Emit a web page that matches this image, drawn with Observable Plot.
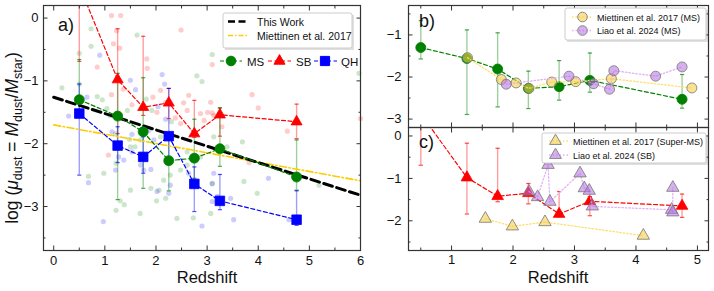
<!DOCTYPE html>
<html><head><meta charset="utf-8">
<script src="https://cdn.jsdelivr.net/npm/d3@7"></script>
<script src="https://cdn.jsdelivr.net/npm/@observablehq/plot@0.6"></script>
<style>
body{margin:0;background:#fff;}
#wrap{position:relative;width:714px;height:291px;overflow:hidden;font-family:"Liberation Sans",Arial,Helvetica,sans-serif;}
#wrap svg{position:absolute;overflow:visible;}
</style></head><body><div id="wrap"></div>
<script>
// ---------- data ----------
const binZ = [0.5, 1.25, 1.75, 2.25, 2.75, 3.25, 4.75];
const msY  = [-1.30, -1.56, -1.81, -2.27, -2.23, -2.08, -2.53];
const msHi = [-0.66, -0.88, -0.95, -1.86, -1.61, -1.43, -1.94];
const msLo = [-1.57, -2.89, -2.71, -2.75, -2.55, -2.36, -2.74];
const sbY  = [0.52, -0.98, -1.42, -1.35, -1.84, -1.54, -1.65];
const sbHi = [1.20, -0.17, -0.29, -1.12, -1.31, -1.43, -1.37];
const sbLo = [-0.69, -1.84, -1.55, -1.60, -1.90, -1.88, -1.92];
const qhY  = [-1.52, -2.03, -2.21, -1.88, -2.64, -2.91, -3.21];
const qhHi = [-1.05, -1.73, -1.89, -1.12, -2.37, -2.49, -2.75];
const qhLo = [-2.50, -2.30, -2.47, -2.30, -3.08, -3.05, -3.30];

const fitZ = [0, 6];
const thisWorkFit = [-1.26, -2.82];
const miettinenFit = [-1.70, -2.59];

const msDots = [[0.16,-1.11],[0.50,-0.56],[0.50,-1.05],[0.73,-0.17],[0.73,-0.45],[0.68,-2.52],[0.95,-1.30],[1.04,-1.44],[1.22,-3.06],[1.30,-2.91],[1.38,-2.97],[1.44,-1.47],[1.63,-0.27],[1.69,-3.11],[1.81,-1.29],[1.92,-1.47],[1.50,-2.74],[1.90,-2.71],[2.06,-2.74],[2.19,-2.87],[2.01,-2.91],[2.15,-2.58],[2.28,-2.50],[2.41,-3.19],[2.48,-2.42],[2.61,-2.13],[2.73,-3.18],[2.80,-0.92],[2.90,-1.01],[3.10,-0.58],[3.07,-3.11],[3.13,-1.89],[3.39,-2.05],[3.10,-2.64],[3.69,-1.97],[3.72,-2.60],[3.98,-2.79],[5.19,-2.66],[5.97,-0.88],[1.70,-1.94],[1.50,-2.05],[1.59,-2.05],[1.22,-2.31],[1.48,-1.93],[0.98,-2.47],[2.09,-1.89],[2.87,-2.21],[1.21,-1.84],[2.61,-2.34],[1.10,-1.55],[2.30,-1.65],[0.85,-1.25]];
const sbDots = [[1.13,0.04],[1.31,0.04],[1.23,-0.20],[1.17,-0.41],[1.29,-0.48],[1.82,-0.65],[1.83,-0.80],[2.49,-0.19],[3.10,-0.74],[2.09,-1.15],[2.19,-1.34],[2.64,-1.23],[2.54,-1.35],[3.01,-1.50],[3.10,-1.51],[3.07,-1.34],[3.88,-1.22],[2.38,-1.59],[2.02,-1.50],[4.00,-1.43],[4.57,-1.80],[6.00,-1.60],[1.07,-2.18],[1.13,-1.22],[1.53,-1.38],[2.87,-1.52],[2.94,-1.63],[3.29,-1.73],[2.48,-1.68],[3.82,-2.30],[0.85,-0.78],[1.36,-1.13],[1.94,-1.26],[2.61,-1.47],[3.13,-1.55]];
const qhDots = [[0.29,-1.56],[0.65,-1.26],[0.90,-0.59],[0.68,-2.62],[0.97,-3.24],[1.50,-0.99],[1.60,-1.14],[1.14,-1.81],[1.27,-2.21],[1.37,-2.26],[1.53,-2.13],[1.70,-2.34],[1.76,-2.42],[1.86,-1.79],[2.12,-0.90],[2.17,-1.05],[2.04,-1.41],[2.19,-1.61],[2.02,-2.76],[2.28,-2.66],[2.25,-2.79],[2.64,-2.47],[3.13,-2.47],[3.10,-2.92],[3.20,-2.84],[2.90,-3.31],[3.52,-3.21],[4.20,-2.55],[4.60,-3.21],[1.53,-1.85],[1.90,-2.41],[3.46,-2.87],[1.29,-2.06],[1.96,-1.94],[3.10,-2.63],[1.21,-2.42]];

// panel b: Miettinen 2017 (MS), Liao 2024 (MS)
const m17MsZ = [1.26, 1.81, 2.05, 2.26, 2.63, 3.02, 3.60, 4.91];
const m17MsY = [-1.54, -2.06, -2.14, -2.27, -2.12, -2.11, -2.04, -2.26];
const liaoMsZ = [1.89, 2.91, 3.31, 3.57, 3.64, 4.32, 4.75];
const liaoMsY = [-2.17, -1.98, -2.16, -2.29, -1.85, -1.98, -1.76];
// panel c: Miettinen 2017 (Super-MS), Liao 2024 (SB)
const m17SmZ = [1.55, 1.99, 2.52, 4.12];
const m17SmY = [-1.95, -2.13, -2.03, -2.35];
const liaoSbZ = [2.26, 2.40, 2.57, 2.60, 3.09, 3.16, 3.24, 3.29, 4.58, 4.60, 4.60];
const liaoSbY = [-1.31, -1.44, -0.68, -1.55, -0.88, -1.23, -1.29, -1.66, -1.74, -1.80, -1.22];

// ---------- helpers ----------
const F = '"Liberation Sans", Arial, Helvetica, sans-serif';
const wrap = document.getElementById("wrap");
const mk = (zs, ys, his, los) => zs.map((z, i) => ({z, y: ys[i], hi: his ? his[i] : null, lo: los ? los[i] : null}));
const ms = mk(binZ, msY, msHi, msLo);
const sb = mk(binZ, sbY, sbHi, sbLo);
const qh = mk(binZ, qhY, qhHi, qhLo);
const m17Ms = mk(m17MsZ, m17MsY), liaoMs = mk(liaoMsZ, liaoMsY);
const m17Sm = mk(m17SmZ, m17SmY), liaoSb = mk(liaoSbZ, liaoSbY);
const pts = arr => arr.map(d => ({z: d[0], y: d[1]}));
const none = () => "";
const intFmt = d3.format("d");

function tickAxes(o) {
  const m = [];
  const ax = (anchor, ticks, size) => (anchor === "bottom" || anchor === "top")
    ? Plot.axisX({anchor, ticks, tickSize: size, tickFormat: none, label: null, stroke: "#333"})
    : Plot.axisY({anchor, ticks, tickSize: size, tickFormat: none, label: null, stroke: "#333"});
  for (const a of o.xAnchors) { m.push(ax(a, o.xt, -4.5)); m.push(ax(a, o.xm, -2.5)); }
  for (const a of ["left", "right"]) { m.push(ax(a, o.yt, -4.5)); m.push(ax(a, o.ym, -2.5)); }
  return m;
}
function errBars(data, color, half) {
  return [
    Plot.ruleX(data, {x: "z", y1: "lo", y2: "hi", stroke: color, strokeOpacity: 0.38, strokeWidth: 1.4, clip: true}),
    Plot.link(data, {x1: d => d.z - half, x2: d => d.z + half, y1: "hi", y2: "hi", stroke: color, strokeOpacity: 0.7, strokeWidth: 1.2, clip: true}),
    Plot.link(data, {x1: d => d.z - half, x2: d => d.z + half, y1: "lo", y2: "lo", stroke: color, strokeOpacity: 0.7, strokeWidth: 1.2, clip: true})
  ];
}
function place(svg, left, top) {
  svg.style.left = left + "px"; svg.style.top = top + "px";
  wrap.appendChild(svg);
}

// ---------- panel a ----------
const A = Plot.plot({
  width: 362, height: 291, marginLeft: 43, marginRight: 2, marginTop: 5, marginBottom: 41,
  style: {fontFamily: F, fontSize: "13px", color: "#111", background: "transparent", overflow: "visible"},
  x: {domain: [-0.2, 6]}, y: {domain: [-3.7, 0.2]},
  marks: [
    Plot.dot(pts(msDots), {x: "z", y: "y", r: 2.6, fill: "green", fillOpacity: 0.2}),
    Plot.dot(pts(sbDots), {x: "z", y: "y", r: 2.6, fill: "red", fillOpacity: 0.2}),
    Plot.dot(pts(qhDots), {x: "z", y: "y", r: 2.6, fill: "blue", fillOpacity: 0.2}),
    ...errBars(sb, "red", 0.04), ...errBars(ms, "green", 0.04), ...errBars(qh, "blue", 0.04),
    Plot.line(fitZ.map((z, i) => ({z, y: miettinenFit[i]})), {x: "z", y: "y", stroke: "#ffcc00", strokeWidth: 1.6, strokeDasharray: "7,2.5,1.5,2.5"}),
    Plot.line(fitZ.map((z, i) => ({z, y: thisWorkFit[i]})), {x: "z", y: "y", stroke: "black", strokeWidth: 3, strokeDasharray: "9,4.5"}),
    Plot.line(ms, {x: "z", y: "y", stroke: "green", strokeWidth: 1.2, strokeDasharray: "4,2.5", clip: true}),
    Plot.line(sb, {x: "z", y: "y", stroke: "red", strokeWidth: 1.2, strokeDasharray: "4,2.5", clip: true}),
    Plot.line(qh, {x: "z", y: "y", stroke: "blue", strokeWidth: 1.2, strokeDasharray: "4,2.5", clip: true}),
    Plot.dot(ms, {x: "z", y: "y", r: 5, fill: "green", stroke: "green", strokeWidth: 0.8}),
    Plot.dot(sb, {x: "z", y: "y", r: 4.1, symbol: "triangle", fill: "red", stroke: "red", strokeWidth: 0.8, clip: true}),
    Plot.dot(qh, {x: "z", y: "y", r: 5.4, symbol: "square", fill: "blue", stroke: "blue", strokeWidth: 0.8}),
    Plot.frame({stroke: "#333", strokeWidth: 1.2}),
    ...tickAxes({xAnchors: ["bottom", "top"], xt: [0,1,2,3,4,5,6], xm: [0.5,1.5,2.5,3.5,4.5,5.5], yt: [0,-1,-2,-3], ym: [-0.5,-1.5,-2.5,-3.5]}),
    Plot.axisX({anchor: "bottom", ticks: [0,1,2,3,4,5,6], tickSize: 0, tickPadding: 5, tickFormat: intFmt, label: null}),
    Plot.axisY({anchor: "left", ticks: [0,-1,-2,-3], tickSize: 0, tickPadding: 5, tickFormat: intFmt, label: null})
  ]
});
place(A, 0, 0);

// ---------- panel b ----------
const B = Plot.plot({
  width: 349, height: 127, marginLeft: 43, marginRight: 6, marginTop: 5, marginBottom: 0,
  style: {fontFamily: F, fontSize: "13px", color: "#111", background: "transparent", overflow: "visible"},
  x: {domain: [0.3, 5.18]}, y: {domain: [-3.2, -0.3]},
  marks: [
    ...errBars(ms, "green", 0.035),
    Plot.line(ms, {x: "z", y: "y", stroke: "green", strokeWidth: 1.2, strokeDasharray: "4,2.5"}),
    Plot.dot(ms, {x: "z", y: "y", r: 5, fill: "green", stroke: "green", strokeWidth: 0.8}),
    Plot.line(m17Ms, {x: "z", y: "y", stroke: "#ffdf70", strokeWidth: 1.3, strokeDasharray: "1.5,2"}),
    Plot.dot(m17Ms, {x: "z", y: "y", r: 5, fill: "#f5cf48", fillOpacity: 0.6, stroke: "#777", strokeOpacity: 0.8, strokeWidth: 1}),
    Plot.line(liaoMs, {x: "z", y: "y", stroke: "#e2b2f5", strokeWidth: 1.3, strokeDasharray: "1.5,2"}),
    Plot.dot(liaoMs, {x: "z", y: "y", r: 5, fill: "#b46fe0", fillOpacity: 0.55, stroke: "#777", strokeOpacity: 0.8, strokeWidth: 1}),
    Plot.frame({stroke: "#333", strokeWidth: 1.2}),
    ...tickAxes({xAnchors: ["bottom", "top"], xt: [1,2,3,4,5], xm: [0.5,1.5,2.5,3.5,4.5], yt: [-1,-2,-3], ym: [-0.5,-1.5,-2.5]}),
    Plot.axisY({anchor: "left", ticks: [-1,-2,-3], tickSize: 0, tickPadding: 7, tickFormat: intFmt, label: null})
  ]
});
place(B, 365, 0);

// ---------- panel c ----------
const C = Plot.plot({
  width: 349, height: 164, marginLeft: 43, marginRight: 6, marginTop: 0, marginBottom: 41,
  style: {fontFamily: F, fontSize: "13px", color: "#111", background: "transparent", overflow: "visible"},
  x: {domain: [0.3, 5.18]}, y: {domain: [-2.7, 0.2]},
  marks: [
    ...errBars(sb, "red", 0.035),
    Plot.line(sb, {x: "z", y: "y", stroke: "red", strokeWidth: 1.2, strokeDasharray: "4,2.5", clip: true}),
    Plot.dot(sb, {x: "z", y: "y", r: 4.3, symbol: "triangle", fill: "red", stroke: "red", strokeWidth: 0.8, clip: true}),
    Plot.line(m17Sm, {x: "z", y: "y", stroke: "#ffdf70", strokeWidth: 1.3, strokeDasharray: "1.5,2"}),
    Plot.dot(m17Sm, {x: "z", y: "y", r: 4.6, symbol: "triangle", fill: "#f5cf48", fillOpacity: 0.6, stroke: "#777", strokeOpacity: 0.8, strokeWidth: 1}),
    Plot.line(liaoSb, {x: "z", y: "y", stroke: "#e2b2f5", strokeWidth: 1.3, strokeDasharray: "1.5,2"}),
    Plot.dot(liaoSb, {x: "z", y: "y", r: 4.6, symbol: "triangle", fill: "#b46fe0", fillOpacity: 0.55, stroke: "#777", strokeOpacity: 0.8, strokeWidth: 1}),
    Plot.frame({stroke: "#333", strokeWidth: 1.2}),
    ...tickAxes({xAnchors: ["bottom", "top"], xt: [1,2,3,4,5], xm: [0.5,1.5,2.5,3.5,4.5], yt: [0,-1,-2], ym: [-0.5,-1.5,-2.5]}),
    Plot.axisX({anchor: "bottom", ticks: [1,2,3,4,5], tickSize: 0, tickPadding: 4, tickFormat: intFmt, label: null}),
    Plot.axisY({anchor: "left", ticks: [0,-1,-2], tickSize: 0, tickPadding: 7, tickFormat: intFmt, label: null})
  ]
});
place(C, 365, 127);

// ---------- overlay: labels & legends ----------
const ov = d3.select(wrap).append("svg").attr("width", 714).attr("height", 291)
  .style("left", "0px").style("top", "0px").attr("font-family", F).attr("fill", "#111");

// axis titles
ov.append("text").attr("x", 207).attr("y", 283).attr("text-anchor", "middle").attr("font-size", 16.5).text("Redshift");
ov.append("text").attr("x", 558).attr("y", 283).attr("text-anchor", "middle").attr("font-size", 16.5).text("Redshift");
const yl = ov.append("text").attr("transform", "translate(18,138) rotate(-90)").attr("text-anchor", "middle").attr("font-size", 17.5);
yl.append("tspan").text("log (");
yl.append("tspan").attr("font-style", "italic").text("μ");
yl.append("tspan").attr("font-size", 12.5).attr("dy", 4).text("dust");
yl.append("tspan").attr("dy", -4).text(" = ");
yl.append("tspan").attr("font-style", "italic").text("M");
yl.append("tspan").attr("font-size", 12.5).attr("dy", 4).text("dust");
yl.append("tspan").attr("dy", -4).text("/");
yl.append("tspan").attr("font-style", "italic").text("M");
yl.append("tspan").attr("font-size", 12.5).attr("dy", 4).text("star");
yl.append("tspan").attr("dy", -4).text(")");

// panel letters
ov.append("text").attr("x", 58).attr("y", 31).attr("font-size", 18).text("a)");
ov.append("text").attr("x", 419).attr("y", 27).attr("font-size", 18).text("b)");
ov.append("text").attr("x", 419).attr("y", 148).attr("font-size", 18).text("c)");

function box(x, y, w, h) {
  ov.append("rect").attr("x", x + 2).attr("y", y + 2).attr("width", w).attr("height", h).attr("fill", "#000").attr("fill-opacity", 0.12);
  ov.append("rect").attr("x", x).attr("y", y).attr("width", w).attr("height", h).attr("rx", 2).attr("fill", "white").attr("stroke", "#ccc").attr("stroke-width", 1);
}
function seg(x1, x2, y, color, w, dash, op) {
  ov.append("line").attr("x1", x1).attr("x2", x2).attr("y1", y).attr("y2", y).attr("stroke", color).attr("stroke-width", w).attr("stroke-dasharray", dash).attr("stroke-opacity", op || 1);
}
function sym(type, cx, cy, r, fill, stroke, fo) {
  const p = d3.symbol().type(type).size(Math.PI * r * r)();
  ov.append("path").attr("d", p).attr("transform", `translate(${cx},${cy})`).attr("fill", fill).attr("fill-opacity", fo || 1).attr("stroke", stroke);
}
function label(x, y, s, t) { ov.append("text").attr("x", x).attr("y", y).attr("font-size", s).text(t); }

// legend a (boxed)
box(223, 13, 129, 35);
seg(228, 249, 21.5, "black", 2.6, "7,3.5");
label(257, 25.5, 10.5, "This Work");
seg(228, 249, 35.5, "#ffcc00", 1.5, "5,2,1.5,2");
label(257, 40, 10.5, "Miettinen et al. 2017");
// legend a (series)
seg(220, 242, 61, "green", 1.2, "4,2.5"); sym(d3.symbolCircle, 231, 61, 4.8, "green", "green"); label(247, 65.5, 11.5, "MS");
seg(268, 291, 61, "red", 1.2, "4,2.5"); sym(d3.symbolTriangle, 279.5, 61, 4.1, "red", "red"); label(296, 65.5, 11.5, "SB");
seg(314, 337, 61, "blue", 1.2, "4,2.5"); sym(d3.symbolSquare, 325, 61, 5.2, "blue", "blue"); label(341, 65.5, 11.5, "QH");

// legend b
box(565, 8, 141, 32);
seg(572, 593, 17, "#ffdf70", 1.3, "1.5,2"); sym(d3.symbolCircle, 582.5, 17, 4.8, "#f5cf48", "#888", 0.6);
label(597, 20.5, 9, "Miettinen et al. 2017 (MS)");
seg(572, 593, 30.5, "#e2b2f5", 1.3, "1.5,2"); sym(d3.symbolCircle, 582.5, 30.5, 4.8, "#b46fe0", "#888", 0.55);
label(597, 34, 9, "Liao et al. 2024 (MS)");

// legend c
box(542, 133, 164, 30);
seg(549, 570, 141, "#ffdf70", 1.3, "1.5,2"); sym(d3.symbolTriangle, 555.5, 141, 4.4, "#f5cf48", "#888", 0.6);
label(573, 144.5, 9, "Miettinen et al. 2017 (Super-MS)");
seg(549, 570, 155, "#e2b2f5", 1.3, "1.5,2"); sym(d3.symbolTriangle, 555.5, 155, 4.4, "#b46fe0", "#888", 0.55);
label(573, 158.5, 9, "Liao et al. 2024 (SB)");
</script></body></html>
